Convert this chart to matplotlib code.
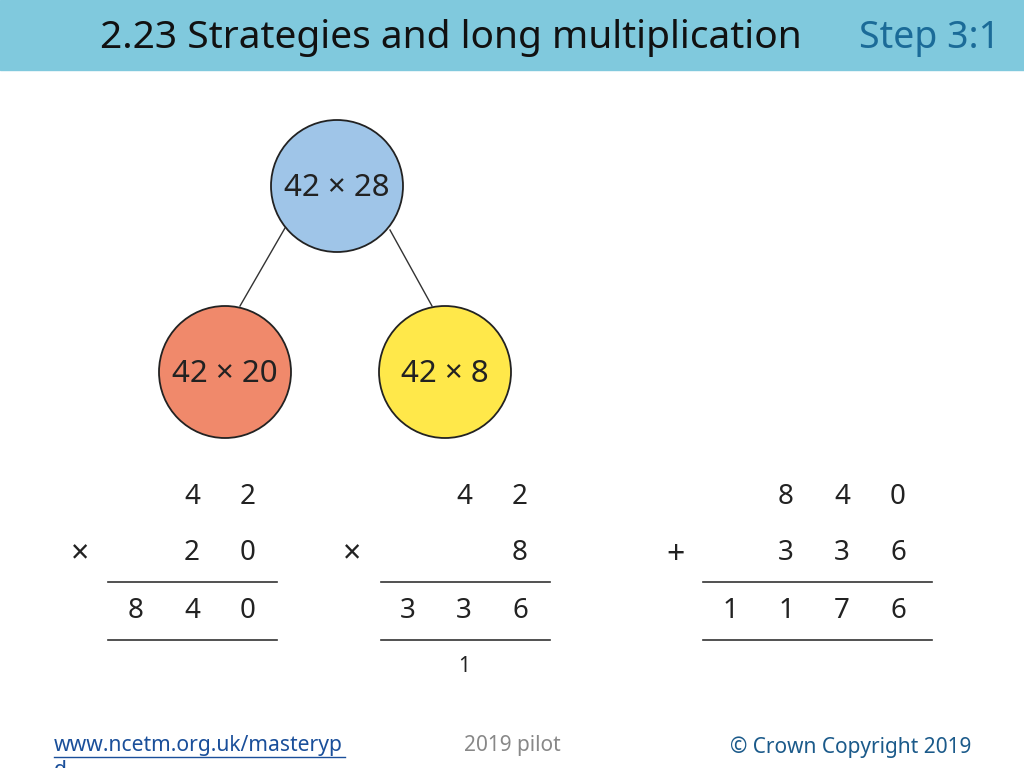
import matplotlib
matplotlib.use("Agg")
import matplotlib.pyplot as plt
from matplotlib.patches import Circle, Rectangle

plt.rcParams['font.family'] = ['Noto Sans', 'DejaVu Sans']

title = "2.23 Strategies and long multiplication"
step = "Step 3:1"
circle_labels = ["42 × 28", "42 × 20", "42 × 8"]
circle_colors = ["#9fc5e8", "#f0896b", "#ffe84a"]
circle_centers = [(337, 186), (225, 372), (445, 372)]

sum1 = {"op": "×", "rows": [["4", "2"], ["2", "0"]], "result": ["8", "4", "0"], "carry": []}
sum2 = {"op": "×", "rows": [["4", "2"], ["", "8"]], "result": ["3", "3", "6"], "carry": ["", "1", ""]}
sum3 = {"op": "+", "rows": [["8", "4", "0"], ["3", "3", "6"]], "result": ["1", "1", "7", "6"], "carry": []}

fig = plt.figure(figsize=(10.24, 7.68), dpi=100)
ax = fig.add_axes([0, 0, 1, 1])
ax.set_xlim(0, 1024); ax.set_ylim(768, 0); ax.axis('off')

ax.add_patch(Rectangle((0, 0), 1024, 70, color="#80c9dd", zorder=0))
ax.text(100, 38, title, fontsize=28, va='center', ha='left', color='#111111')
ax.text(1000, 38, step, fontsize=27, va='center', ha='right', color='#1b6b98')

ax.plot([285, 240], [228, 306], color='#333333', lw=1)
ax.plot([390, 432], [230, 306], color='#333333', lw=1)
for (cx, cy), col, lab in zip(circle_centers, circle_colors, circle_labels):
    ax.add_patch(Circle((cx, cy), 66, facecolor=col, edgecolor='#222222', lw=1.3, zorder=2))
    ax.text(cx, cy + 2, lab, fontsize=22.5, ha='center', va='center', zorder=3, color='#222222')

def draw(s, right_x, op_x, line_x0, line_x1):
    step_x = 56
    fs = 20
    ys = [497, 553]
    for row, y in zip(s["rows"], ys):
        n = len(row)
        for i, d in enumerate(row):
            ax.text(right_x - (n - 1 - i) * step_x, y, d, fontsize=fs, ha='center', va='center', color='#222222')
    ax.text(op_x, 555, s["op"], fontsize=23, ha='center', va='center', color='#222222')
    ax.plot([line_x0, line_x1], [582, 582], color='#333333', lw=1.2)
    ax.plot([line_x0, line_x1], [640, 640], color='#333333', lw=1.2)
    n = len(s["result"])
    for i, d in enumerate(s["result"]):
        ax.text(right_x - (n - 1 - i) * step_x, 611, d, fontsize=fs, ha='center', va='center', color='#222222')
    n = len(s["carry"])
    for i, d in enumerate(s["carry"]):
        ax.text(right_x - (n - 1 - i) * step_x, 667, d, fontsize=15, ha='center', va='center', color='#222222')

draw(sum1, 248, 80, 108, 277)
draw(sum2, 520, 352, 381, 550)
draw(sum3, 898, 675, 703, 932)

ax.text(54, 745, "www.ncetm.org.uk/masteryp", fontsize=15.2, ha='left', va='center', color='#1a4f9a')
ax.plot([54, 345], [757, 757], color='#1a4f9a', lw=1)
ax.text(54, 770, "d", fontsize=15.2, ha='left', va='center', color='#1a4f9a')
ax.text(512, 745, "2019 pilot", fontsize=15, ha='center', va='center', color='#888888')
ax.text(971, 747, "© Crown Copyright 2019", fontsize=15, ha='right', va='center', color='#1b5a8a')

fig.savefig("out.png", dpi=100)
